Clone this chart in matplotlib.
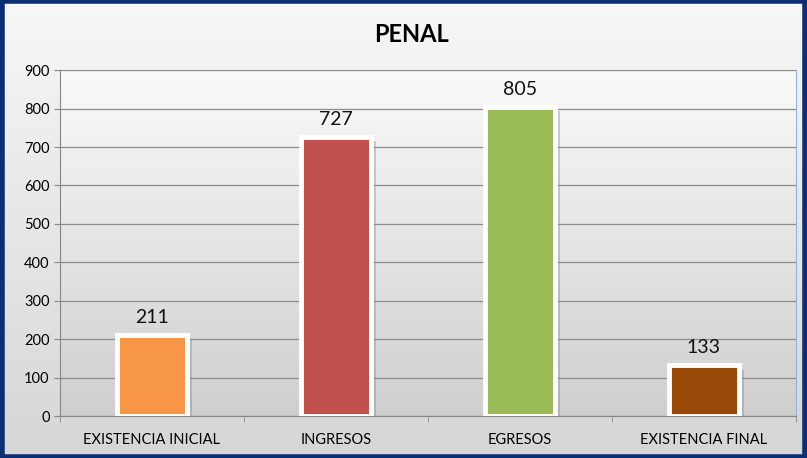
import numpy as np
import matplotlib
matplotlib.use('Agg')
import matplotlib.pyplot as plt
from matplotlib.patches import Rectangle

categorias = ['EXISTENCIA INICIAL', 'INGRESOS', 'EGRESOS', 'EXISTENCIA FINAL']
valores = [211, 727, 805, 133]
colores = ['#f79646', '#c0504d', '#9bbb59', '#984807']

plt.rcParams['font.family'] = ['Lato', 'DejaVu Sans']

fig = plt.figure(figsize=(8.07, 4.58), dpi=100)

# fondo de la figura con degradado
bg = fig.add_axes([0, 0, 1, 1], zorder=-10)
grad = np.linspace(0, 1, 256).reshape(-1, 1)
bg.imshow(grad, aspect='auto', cmap=matplotlib.colors.LinearSegmentedColormap.from_list('g', ['#f7f7f7', '#d6d6d6']),
          extent=[0, 1, 0, 1], origin='upper')
bg.set_xlim(0, 1)
bg.set_ylim(0, 1)
bg.axis('off')
bg.add_patch(Rectangle((0.002, 0.003), 0.996, 0.994, fill=False, edgecolor='#0d2f72', linewidth=4,
                       transform=bg.transAxes))

ax = fig.add_axes([0.0743, 0.0917, 0.912, 0.755])
ax.set_facecolor('none')
x = np.arange(len(categorias))
ax.set_xlim(-0.5, len(categorias) - 0.5)
ax.set_ylim(0, 900)

# degradado del area de trazado
ax.imshow(grad, aspect='auto', cmap=matplotlib.colors.LinearSegmentedColormap.from_list('p', ['#fafafa', '#cfcfcf']),
          extent=[-0.5, len(categorias) - 0.5, 0, 900], origin='upper', zorder=0)

ax.set_yticks(range(0, 901, 100))
ax.yaxis.grid(True, color='#8c8c8c', linewidth=0.9, zorder=1)
ax.set_axisbelow(False)

# sombra
ax.bar(x + 0.025, np.array(valores) - 8, width=0.38, bottom=-4, color='#7f7f7f', alpha=0.35, zorder=2)
ax.bar(x, valores, width=0.38, color=colores, edgecolor='white', linewidth=3.5, zorder=3)

for xi, v in zip(x, valores):
    ax.text(xi, v + 22, str(v), ha='center', va='bottom', fontsize=14, color='#111111', zorder=4)

ax.set_xticks(x)
ax.set_xticklabels(categorias, fontsize=10.5)
ax.set_xticks(np.arange(-0.5, len(categorias)), minor=True)
ax.tick_params(axis='x', which='major', length=0, pad=12)
ax.tick_params(axis='x', which='minor', length=4, color='#868686')
ax.tick_params(axis='y', labelsize=10.5, length=4, color='#868686')

ax.spines['left'].set_color('#868686')
ax.spines['bottom'].set_color('#868686')
ax.spines['top'].set_color('#95b3d7')
ax.spines['right'].set_color('#95b3d7')

fig.text(0.51, 0.924, 'PENAL', ha='center', va='center', fontsize=17, fontweight='bold')

fig.savefig('out.png', dpi=100)
